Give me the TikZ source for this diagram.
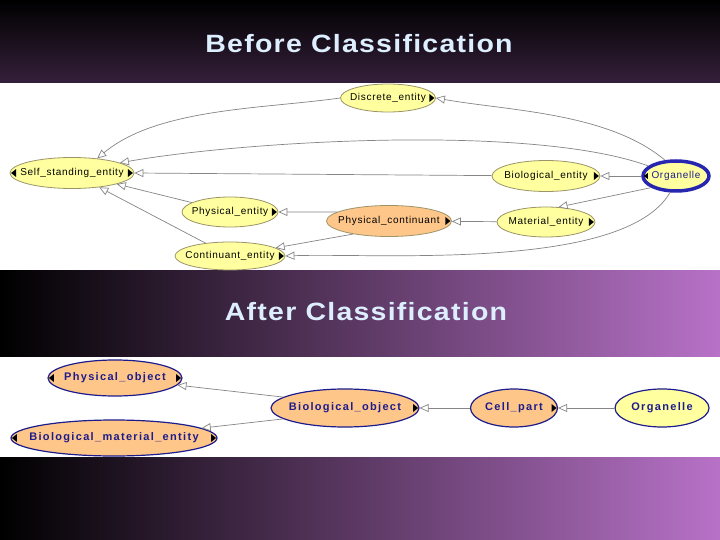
\documentclass[tikz,border=0pt]{standalone}
\usepackage{fontspec}
\setmainfont{Liberation Sans}
\newfontfamily\nodefont[LetterSpace=7]{Liberation Sans}
\newfontfamily\bignodefont[LetterSpace=12]{Liberation Sans}
\newfontfamily\titlefont[LetterSpace=5, FakeStretch=1.14]{Liberation Sans}
\usetikzlibrary{arrows.meta, shapes.geometric}
\definecolor{entyellow}{HTML}{FFFFA0}
\definecolor{entorange}{HTML}{FFC68A}
\definecolor{entline}{HTML}{9C9468}
\definecolor{orgblue}{HTML}{2626B0}
\definecolor{navy}{HTML}{1C1C8C}
\definecolor{edgegray}{HTML}{858585}
\definecolor{titleblue}{HTML}{DDEEFF}
\definecolor{topdark}{HTML}{35203B}
\definecolor{purplemid}{HTML}{8C5A9E}
\definecolor{purpleright}{HTML}{B872C8}

\begin{document}
\begin{tikzpicture}[x=1pt, y=-1pt,
  ent/.style={ellipse, draw=entline, fill=entyellow, line width=0.8pt, inner xsep=-100pt, inner ysep=-20pt, font=\nodefont\fontsize{10}{12}\selectfont},
  cls/.style={ellipse, draw=navy, fill=entorange, line width=1.2pt, text=navy, inner xsep=-100pt, inner ysep=-20pt, font=\bignodefont\bfseries\fontsize{11}{13}\selectfont},
  title/.style={text=titleblue, anchor=base, font=\titlefont\bfseries\fontsize{25}{30}\selectfont},
  >={Triangle[open, length=9pt, width=8pt, fill=white]}
]
\useasboundingbox (0,0) rectangle (720,540);
\shade[top color=black, bottom color=topdark] (0,0) rectangle (720,83);
\shade[left color=black, middle color=purplemid, right color=purpleright] (0,270) rectangle (720,540);
\fill[white] (0,83) rectangle (720,270);
\fill[white] (0,357) rectangle (720,457);

\node[title] (before) at (359,53) {Before Classification};
\node[title] (after) at (366,320) {After Classification};

\node[ent, minimum width=95, minimum height=28] (disc) at (388,98) {Discrete\_entity};
\node[ent, minimum width=124, minimum height=31] (self) at (72,173) {Self\_standing\_entity};
\node[ent, minimum width=96, minimum height=30] (pent) at (230,212) {Physical\_entity};
\node[ent, minimum width=110, minimum height=28] (cont) at (230,256) {Continuant\_entity};
\node[ent, fill=entorange, minimum width=125, minimum height=31] (pcont) at (389,221) {Physical\_continuant};
\node[ent, minimum width=108, minimum height=31] (bio) at (546,176) {Biological\_entity};
\node[ent, minimum width=98, minimum height=30] (mat) at (546,222) {Material\_entity};
\node[ent, draw=orgblue, line width=3.5pt, text=navy, minimum width=66, minimum height=30] (org) at (676,176) {Organelle};

\node[cls, minimum width=134, minimum height=36] (pobj) at (115,378) {Physical\_object};
\node[cls, minimum width=206, minimum height=36] (bme) at (114,438) {Biological\_material\_entity};
\node[cls, minimum width=148, minimum height=38] (bobj) at (345,408) {Biological\_object};
\node[cls, minimum width=87, minimum height=38] (cell) at (514,408) {Cell\_part};
\node[cls, fill=entyellow, minimum width=94, minimum height=38] (org2) at (662,408) {Organelle};

\foreach \n in {disc,self,pent,cont,pcont,bio,mat,pobj,bme,bobj,cell}
  \fill ([xshift=-1.5pt]\n.east) -- ++(-5pt,4pt) -- ++(0,-8pt) -- cycle;
\foreach \n in {self,pobj,bme}
  \fill ([xshift=1.5pt]\n.west) -- ++(5pt,4pt) -- ++(0,-8pt) -- cycle;
\fill ([xshift=2.5pt]org.west) -- ++(4pt,3pt) -- ++(0,-6pt) -- cycle;

\begin{scope}[draw=edgegray, line width=0.7pt]
\draw[->] (org.125) to[out=140, in=350, looseness=0.8] (disc.east);
\draw[->] (org.160) to[out=160, in=10, looseness=0.6] (self.12);
\draw[->] (bio) -- (self.east);
\draw[->] (org) -- (bio);
\draw[->] (org.205) -- (mat.50);
\draw[->] (org.250) to[out=240, in=2, looseness=0.6] (cont.east);
\draw[->] (mat) -- (pcont);
\draw[->] (pcont.170) -- (pent);
\draw[->] (pcont.200) -- (cont);
\draw[->] (pent) -- (self);
\draw[->] (cont) -- (self);
\draw[->] (disc.west) to[out=188, in=40, looseness=0.8] (self.30);
\draw[->] (org2) -- (cell);
\draw[->] (cell) -- (bobj);
\draw[->] (bobj.170) -- (pobj);
\draw[->] (bobj.190) -- (bme);
\end{scope}
\end{tikzpicture}
\end{document}
